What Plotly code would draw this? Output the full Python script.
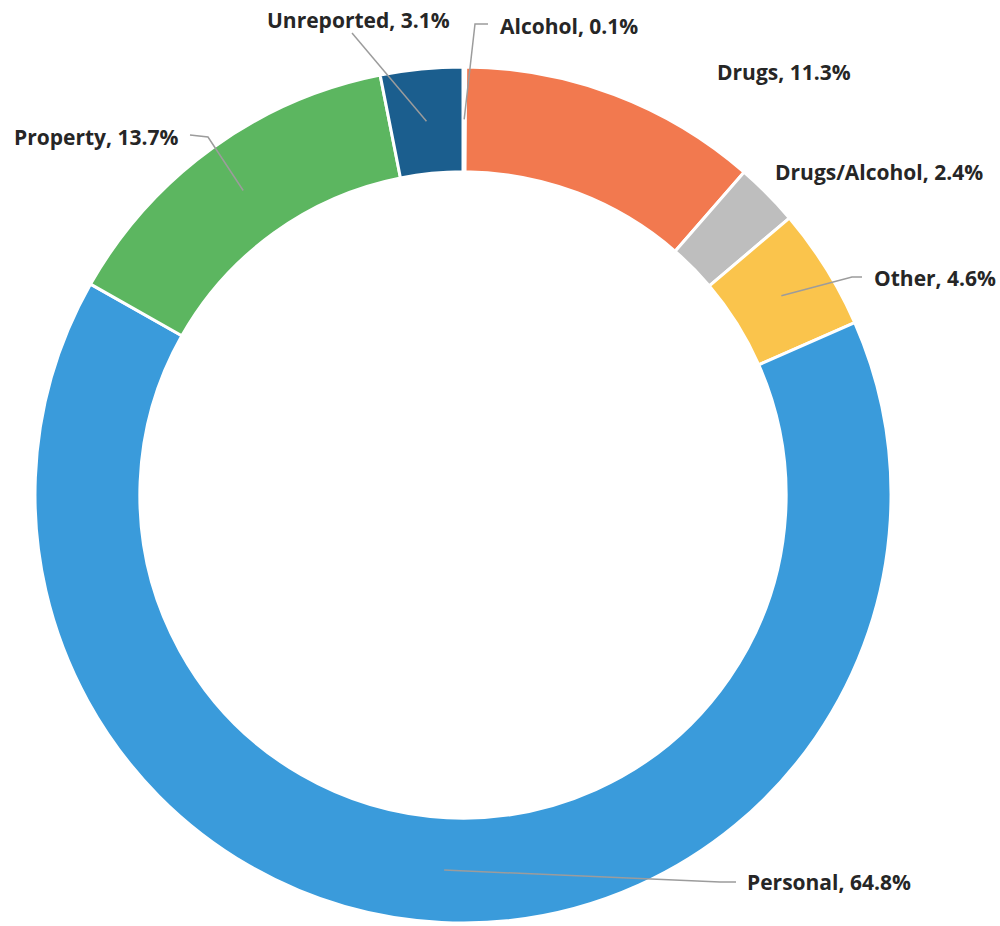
import math
import plotly.graph_objects as go

# Offence categories, clockwise from 12 o'clock
categories = ["Alcohol", "Drugs", "Drugs/Alcohol", "Other", "Personal", "Property", "Unreported"]
shares = [0.1, 11.3, 2.4, 4.6, 64.8, 13.7, 3.1]
colors = ["#A5A5A5", "#F2794F", "#BEBEBE", "#FAC44C", "#3A9BDB", "#5CB660", "#1B5E8E"]

W, H = 1000, 926
CX, CY, R = 463, 495, 428          # ring centre and outer radius (px)
HOLE = 0.755
R_MID = R * (1 + HOLE) / 2         # leader lines start mid-ring

# label placement: (text x, text y, anchor, elbow point or None, end point or None)
label_layout = {
    "Alcohol":       (498, 26, "left",  (475, 24), (488, 24)),
    "Drugs":         (715, 72, "left",  None, None),
    "Drugs/Alcohol": (773, 172, "left", None, None),
    "Other":         (872, 278, "left", (852, 277), (862, 277)),
    "Personal":      (745, 882, "left", (720, 882), (736, 882)),
    "Property":      (180, 137, "right", (208, 137), (190, 135)),
    "Unreported":    (452, 20, "right", None, (352, 33)),
}


def px(x):
    return x / W


def py(y):
    return 1 - y / H


fig = go.Figure(go.Pie(
    labels=categories,
    values=shares,
    sort=False,
    direction="clockwise",
    rotation=0,
    hole=HOLE,
    marker=dict(colors=colors, line=dict(color="white", width=3)),
    textinfo="none",
    hoverinfo="label+percent",
    showlegend=False,
    domain=dict(x=[px(CX - R), px(CX + R)], y=[py(CY + R), py(CY - R)]),
))

shapes = []
annotations = []
total = sum(shares)
cum = 0.0
for name, val in zip(categories, shares):
    mid = (cum + val / 2) / total * 2 * math.pi
    cum += val
    tx, ty, anchor, elbow, end = label_layout[name]
    annotations.append(dict(
        x=px(tx), y=py(ty), xref="paper", yref="paper",
        text=f"<b>{name}, {val:.1f}%</b>", showarrow=False,
        xanchor=anchor, yanchor="middle",
        font=dict(family="Open Sans, sans-serif", size=21, color="#262626"),
    ))
    if end is None:
        continue
    sx = CX + R_MID * math.sin(mid)
    sy = CY - R_MID * math.cos(mid)
    pts = [(sx, sy)] + ([elbow] if elbow else []) + [end]
    path = "M " + " L ".join(f"{px(x)},{py(y)}" for x, y in pts)
    shapes.append(dict(type="path", path=path, xref="paper", yref="paper",
                       line=dict(color="#9C9C9C", width=1.5)))

fig.update_layout(
    width=W, height=H,
    margin=dict(l=0, r=0, t=0, b=0),
    paper_bgcolor="white", plot_bgcolor="white",
    shapes=shapes, annotations=annotations,
)

fig.write_html("out.html")
